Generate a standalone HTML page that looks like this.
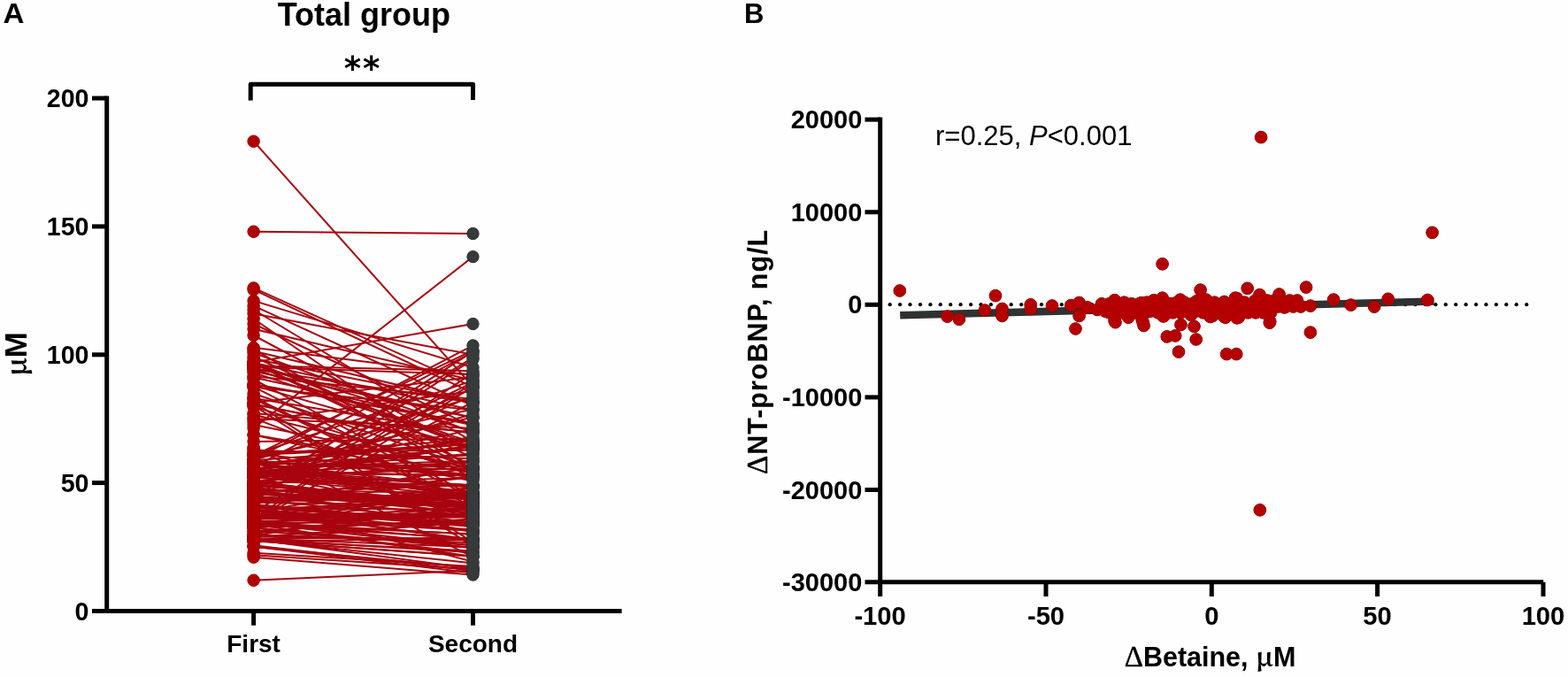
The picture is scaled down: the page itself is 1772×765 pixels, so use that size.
<!DOCTYPE html>
<html><head><meta charset="utf-8"><style>
html,body{margin:0;padding:0;background:#fff;}
svg{display:block}
text{font-family:'Liberation Sans',Arial,sans-serif;fill:#000}
.b{font-weight:bold}
.sym{font-family:'Liberation Serif',serif;font-weight:normal}
.mu{font-family:'Noto Serif CJK SC','Liberation Serif',serif;font-weight:bold}
</style></head><body>
<svg width="1772" height="765" viewBox="0 0 1772 765">
<rect width="1772" height="765" fill="#fefefe"/>
<!-- Panel A -->
<text class="b" transform="translate(3.6 26.3) scale(1.07 1)" font-size="31">A</text>
<text class="b" x="411.35" y="29" font-size="36" text-anchor="middle">Total group</text>
<text class="b" x="410" y="89.5" font-size="37" text-anchor="middle" letter-spacing="2" style="font-family:'DejaVu Sans',sans-serif">**</text>
<path d="M283.2 113.5V95.2H534.5V113" fill="none" stroke="#000" stroke-width="5" stroke-linejoin="round"/>
<g stroke="#000" stroke-width="5" fill="none">
<line x1="120.7" y1="108.6" x2="120.7" y2="693"/>
<line x1="104" y1="690.5" x2="702.6" y2="690.5"/>
<line x1="104" y1="545.6" x2="120.7" y2="545.6"/><line x1="104" y1="400.8" x2="120.7" y2="400.8"/><line x1="104" y1="255.9" x2="120.7" y2="255.9"/><line x1="104" y1="111.0" x2="120.7" y2="111.0"/>
<line x1="286.6" y1="690.5" x2="286.6" y2="706.7"/>
<line x1="534.5" y1="690.5" x2="534.5" y2="706.7"/>
</g>
<text class="b" x="100.5" y="700.5" font-size="28.6" text-anchor="end">0</text><text class="b" x="100.5" y="555.6" font-size="28.6" text-anchor="end">50</text><text class="b" x="100.5" y="410.8" font-size="28.6" text-anchor="end">100</text><text class="b" x="100.5" y="265.9" font-size="28.6" text-anchor="end">150</text><text class="b" x="100.5" y="121.0" font-size="28.6" text-anchor="end">200</text>
<text class="b" x="286.6" y="736.5" font-size="28" text-anchor="middle">First</text>
<text class="b" x="534.5" y="736.5" font-size="28" text-anchor="middle">Second</text>
<text class="b" transform="translate(29.8 400) rotate(-90)" font-size="35" text-anchor="middle"><tspan class="mu" font-size="32">μ</tspan>M</text>
<g stroke="#a8040f" stroke-width="2.0"><line x1="286.6" y1="159.7" x2="534.5" y2="437.0"/><line x1="286.6" y1="261.7" x2="534.5" y2="264.0"/><line x1="286.6" y1="483.9" x2="534.5" y2="290.1"/><line x1="286.6" y1="409.4" x2="534.5" y2="366.0"/><line x1="286.6" y1="325.4" x2="534.5" y2="437.3"/><line x1="286.6" y1="327.4" x2="534.5" y2="444.2"/><line x1="286.6" y1="655.7" x2="534.5" y2="644.7"/><line x1="286.6" y1="629.7" x2="534.5" y2="649.6"/><line x1="286.6" y1="339.9" x2="534.5" y2="415.2"/><line x1="286.6" y1="345.7" x2="534.5" y2="458.7"/><line x1="286.6" y1="350.0" x2="534.5" y2="499.3"/><line x1="286.6" y1="354.4" x2="534.5" y2="400.8"/><line x1="286.6" y1="360.2" x2="534.5" y2="531.1"/><line x1="286.6" y1="366.0" x2="534.5" y2="481.9"/><line x1="286.6" y1="371.8" x2="534.5" y2="429.7"/><line x1="286.6" y1="379.0" x2="534.5" y2="510.9"/><line x1="286.6" y1="617.9" x2="534.5" y2="642.0"/><line x1="286.6" y1="617.5" x2="534.5" y2="647.4"/><line x1="286.6" y1="624.8" x2="534.5" y2="640.1"/><line x1="286.6" y1="616.3" x2="534.5" y2="644.9"/><line x1="286.6" y1="627.2" x2="534.5" y2="643.3"/><line x1="286.6" y1="608.5" x2="534.5" y2="618.3"/><line x1="286.6" y1="548.0" x2="534.5" y2="493.1"/><line x1="286.6" y1="522.8" x2="534.5" y2="514.4"/><line x1="286.6" y1="551.6" x2="534.5" y2="570.5"/><line x1="286.6" y1="610.9" x2="534.5" y2="628.6"/><line x1="286.6" y1="563.3" x2="534.5" y2="558.0"/><line x1="286.6" y1="589.8" x2="534.5" y2="593.0"/><line x1="286.6" y1="609.5" x2="534.5" y2="642.5"/><line x1="286.6" y1="534.2" x2="534.5" y2="537.2"/><line x1="286.6" y1="564.1" x2="534.5" y2="590.2"/><line x1="286.6" y1="550.8" x2="534.5" y2="580.6"/><line x1="286.6" y1="569.9" x2="534.5" y2="592.8"/><line x1="286.6" y1="519.9" x2="534.5" y2="449.2"/><line x1="286.6" y1="534.4" x2="534.5" y2="548.3"/><line x1="286.6" y1="591.0" x2="534.5" y2="619.1"/><line x1="286.6" y1="585.5" x2="534.5" y2="558.4"/><line x1="286.6" y1="575.1" x2="534.5" y2="567.0"/><line x1="286.6" y1="533.8" x2="534.5" y2="586.6"/><line x1="286.6" y1="533.7" x2="534.5" y2="504.2"/><line x1="286.6" y1="612.2" x2="534.5" y2="608.2"/><line x1="286.6" y1="568.7" x2="534.5" y2="528.1"/><line x1="286.6" y1="521.4" x2="534.5" y2="537.3"/><line x1="286.6" y1="553.9" x2="534.5" y2="557.2"/><line x1="286.6" y1="540.1" x2="534.5" y2="550.0"/><line x1="286.6" y1="581.4" x2="534.5" y2="580.3"/><line x1="286.6" y1="522.9" x2="534.5" y2="531.0"/><line x1="286.6" y1="589.4" x2="534.5" y2="609.7"/><line x1="286.6" y1="602.9" x2="534.5" y2="573.1"/><line x1="286.6" y1="595.8" x2="534.5" y2="589.3"/><line x1="286.6" y1="560.4" x2="534.5" y2="583.4"/><line x1="286.6" y1="544.4" x2="534.5" y2="548.2"/><line x1="286.6" y1="600.1" x2="534.5" y2="616.0"/><line x1="286.6" y1="573.3" x2="534.5" y2="591.0"/><line x1="286.6" y1="592.5" x2="534.5" y2="608.9"/><line x1="286.6" y1="537.8" x2="534.5" y2="485.3"/><line x1="286.6" y1="584.1" x2="534.5" y2="580.8"/><line x1="286.6" y1="575.7" x2="534.5" y2="595.0"/><line x1="286.6" y1="533.0" x2="534.5" y2="548.4"/><line x1="286.6" y1="520.5" x2="534.5" y2="537.5"/><line x1="286.6" y1="592.5" x2="534.5" y2="603.3"/><line x1="286.6" y1="581.8" x2="534.5" y2="550.6"/><line x1="286.6" y1="584.8" x2="534.5" y2="584.5"/><line x1="286.6" y1="558.2" x2="534.5" y2="562.4"/><line x1="286.6" y1="589.7" x2="534.5" y2="616.4"/><line x1="286.6" y1="570.2" x2="534.5" y2="592.2"/><line x1="286.6" y1="523.3" x2="534.5" y2="562.2"/><line x1="286.6" y1="531.9" x2="534.5" y2="537.5"/><line x1="286.6" y1="595.3" x2="534.5" y2="575.3"/><line x1="286.6" y1="536.4" x2="534.5" y2="503.4"/><line x1="286.6" y1="589.1" x2="534.5" y2="583.8"/><line x1="286.6" y1="525.1" x2="534.5" y2="498.4"/><line x1="286.6" y1="594.0" x2="534.5" y2="557.1"/><line x1="286.6" y1="556.3" x2="534.5" y2="579.8"/><line x1="286.6" y1="573.2" x2="534.5" y2="576.7"/><line x1="286.6" y1="523.0" x2="534.5" y2="527.7"/><line x1="286.6" y1="590.2" x2="534.5" y2="603.9"/><line x1="286.6" y1="535.9" x2="534.5" y2="561.7"/><line x1="286.6" y1="557.0" x2="534.5" y2="569.5"/><line x1="286.6" y1="545.5" x2="534.5" y2="540.3"/><line x1="286.6" y1="605.9" x2="534.5" y2="610.6"/><line x1="286.6" y1="533.2" x2="534.5" y2="512.5"/><line x1="286.6" y1="555.3" x2="534.5" y2="573.8"/><line x1="286.6" y1="593.4" x2="534.5" y2="551.2"/><line x1="286.6" y1="610.7" x2="534.5" y2="622.5"/><line x1="286.6" y1="606.7" x2="534.5" y2="590.4"/><line x1="286.6" y1="595.9" x2="534.5" y2="625.1"/><line x1="286.6" y1="600.1" x2="534.5" y2="586.6"/><line x1="286.6" y1="578.7" x2="534.5" y2="537.0"/><line x1="286.6" y1="551.4" x2="534.5" y2="601.2"/><line x1="286.6" y1="548.2" x2="534.5" y2="567.9"/><line x1="286.6" y1="609.0" x2="534.5" y2="624.2"/><line x1="286.6" y1="610.6" x2="534.5" y2="588.9"/><line x1="286.6" y1="523.0" x2="534.5" y2="551.0"/><line x1="286.6" y1="610.3" x2="534.5" y2="636.4"/><line x1="286.6" y1="544.5" x2="534.5" y2="573.3"/><line x1="286.6" y1="582.7" x2="534.5" y2="582.2"/><line x1="286.6" y1="561.6" x2="534.5" y2="570.4"/><line x1="286.6" y1="543.9" x2="534.5" y2="521.9"/><line x1="286.6" y1="547.0" x2="534.5" y2="577.9"/><line x1="286.6" y1="538.7" x2="534.5" y2="528.8"/><line x1="286.6" y1="548.7" x2="534.5" y2="568.4"/><line x1="286.6" y1="528.7" x2="534.5" y2="520.8"/><line x1="286.6" y1="539.0" x2="534.5" y2="565.1"/><line x1="286.6" y1="532.2" x2="534.5" y2="570.0"/><line x1="286.6" y1="576.8" x2="534.5" y2="599.8"/><line x1="286.6" y1="558.2" x2="534.5" y2="574.3"/><line x1="286.6" y1="553.0" x2="534.5" y2="567.7"/><line x1="286.6" y1="520.2" x2="534.5" y2="501.6"/><line x1="286.6" y1="576.3" x2="534.5" y2="610.6"/><line x1="286.6" y1="544.1" x2="534.5" y2="574.6"/><line x1="286.6" y1="534.5" x2="534.5" y2="555.4"/><line x1="286.6" y1="604.5" x2="534.5" y2="613.2"/><line x1="286.6" y1="556.5" x2="534.5" y2="570.9"/><line x1="286.6" y1="567.7" x2="534.5" y2="571.9"/><line x1="286.6" y1="566.2" x2="534.5" y2="539.2"/><line x1="286.6" y1="555.3" x2="534.5" y2="548.3"/><line x1="286.6" y1="611.2" x2="534.5" y2="628.5"/><line x1="286.6" y1="584.4" x2="534.5" y2="599.9"/><line x1="286.6" y1="596.5" x2="534.5" y2="619.3"/><line x1="286.6" y1="528.3" x2="534.5" y2="550.4"/><line x1="286.6" y1="529.6" x2="534.5" y2="559.4"/><line x1="286.6" y1="582.0" x2="534.5" y2="598.4"/><line x1="286.6" y1="572.3" x2="534.5" y2="594.3"/><line x1="286.6" y1="537.5" x2="534.5" y2="505.2"/><line x1="286.6" y1="576.6" x2="534.5" y2="609.8"/><line x1="286.6" y1="558.2" x2="534.5" y2="572.0"/><line x1="286.6" y1="566.2" x2="534.5" y2="563.5"/><line x1="286.6" y1="534.7" x2="534.5" y2="522.1"/><line x1="286.6" y1="524.2" x2="534.5" y2="562.6"/><line x1="286.6" y1="586.6" x2="534.5" y2="583.0"/><line x1="286.6" y1="586.8" x2="534.5" y2="573.3"/><line x1="286.6" y1="592.4" x2="534.5" y2="629.0"/><line x1="286.6" y1="566.5" x2="534.5" y2="558.4"/><line x1="286.6" y1="583.0" x2="534.5" y2="556.8"/><line x1="286.6" y1="570.3" x2="534.5" y2="634.7"/><line x1="286.6" y1="605.3" x2="534.5" y2="567.9"/><line x1="286.6" y1="608.4" x2="534.5" y2="607.9"/><line x1="286.6" y1="546.6" x2="534.5" y2="573.3"/><line x1="286.6" y1="538.9" x2="534.5" y2="556.1"/><line x1="286.6" y1="514.2" x2="534.5" y2="502.3"/><line x1="286.6" y1="513.5" x2="534.5" y2="497.0"/><line x1="286.6" y1="411.8" x2="534.5" y2="487.7"/><line x1="286.6" y1="510.7" x2="534.5" y2="508.8"/><line x1="286.6" y1="437.2" x2="534.5" y2="562.9"/><line x1="286.6" y1="433.9" x2="534.5" y2="478.1"/><line x1="286.6" y1="414.7" x2="534.5" y2="423.0"/><line x1="286.6" y1="491.5" x2="534.5" y2="543.8"/><line x1="286.6" y1="456.6" x2="534.5" y2="507.0"/><line x1="286.6" y1="457.0" x2="534.5" y2="503.9"/><line x1="286.6" y1="426.4" x2="534.5" y2="480.4"/><line x1="286.6" y1="473.0" x2="534.5" y2="483.9"/><line x1="286.6" y1="428.6" x2="534.5" y2="560.8"/><line x1="286.6" y1="421.1" x2="534.5" y2="502.1"/><line x1="286.6" y1="466.9" x2="534.5" y2="488.3"/><line x1="286.6" y1="505.6" x2="534.5" y2="629.4"/><line x1="286.6" y1="398.8" x2="534.5" y2="488.1"/><line x1="286.6" y1="459.4" x2="534.5" y2="535.2"/><line x1="286.6" y1="437.6" x2="534.5" y2="463.3"/><line x1="286.6" y1="444.8" x2="534.5" y2="528.8"/><line x1="286.6" y1="405.6" x2="534.5" y2="454.7"/><line x1="286.6" y1="458.1" x2="534.5" y2="617.2"/><line x1="286.6" y1="434.4" x2="534.5" y2="479.2"/><line x1="286.6" y1="413.3" x2="534.5" y2="419.2"/><line x1="286.6" y1="435.6" x2="534.5" y2="506.9"/><line x1="286.6" y1="403.0" x2="534.5" y2="517.2"/><line x1="286.6" y1="392.8" x2="534.5" y2="424.2"/><line x1="286.6" y1="416.7" x2="534.5" y2="500.1"/><line x1="286.6" y1="476.2" x2="534.5" y2="441.7"/><line x1="286.6" y1="472.6" x2="534.5" y2="566.0"/><line x1="286.6" y1="506.2" x2="534.5" y2="586.8"/><line x1="286.6" y1="419.6" x2="534.5" y2="472.0"/><line x1="286.6" y1="455.1" x2="534.5" y2="426.2"/><line x1="286.6" y1="508.6" x2="534.5" y2="518.3"/><line x1="286.6" y1="415.6" x2="534.5" y2="472.0"/><line x1="286.6" y1="417.1" x2="534.5" y2="455.1"/><line x1="286.6" y1="498.9" x2="534.5" y2="495.7"/><line x1="286.6" y1="425.2" x2="534.5" y2="450.9"/><line x1="286.6" y1="410.5" x2="534.5" y2="530.8"/><line x1="286.6" y1="454.4" x2="534.5" y2="612.8"/><line x1="286.6" y1="396.7" x2="534.5" y2="454.9"/><line x1="286.6" y1="450.1" x2="534.5" y2="490.1"/><line x1="286.6" y1="480.0" x2="534.5" y2="529.2"/><line x1="286.6" y1="450.6" x2="534.5" y2="572.8"/><line x1="286.6" y1="410.1" x2="534.5" y2="526.2"/><line x1="286.6" y1="468.5" x2="534.5" y2="530.0"/><line x1="286.6" y1="409.9" x2="534.5" y2="463.2"/><line x1="286.6" y1="409.2" x2="534.5" y2="507.1"/><line x1="286.6" y1="394.3" x2="534.5" y2="541.7"/><line x1="286.6" y1="491.3" x2="534.5" y2="534.7"/><line x1="286.6" y1="448.9" x2="534.5" y2="569.7"/><line x1="286.6" y1="513.1" x2="534.5" y2="536.6"/><line x1="286.6" y1="513.7" x2="534.5" y2="430.0"/><line x1="286.6" y1="566.4" x2="534.5" y2="406.1"/><line x1="286.6" y1="551.4" x2="534.5" y2="432.1"/><line x1="286.6" y1="539.5" x2="534.5" y2="467.7"/><line x1="286.6" y1="553.6" x2="534.5" y2="438.5"/><line x1="286.6" y1="514.9" x2="534.5" y2="395.9"/><line x1="286.6" y1="578.6" x2="534.5" y2="433.6"/><line x1="286.6" y1="591.8" x2="534.5" y2="436.9"/><line x1="286.6" y1="527.9" x2="534.5" y2="397.8"/><line x1="286.6" y1="559.4" x2="534.5" y2="446.6"/><line x1="286.6" y1="585.8" x2="534.5" y2="421.4"/><line x1="286.6" y1="517.8" x2="534.5" y2="462.3"/><line x1="286.6" y1="531.3" x2="534.5" y2="471.3"/><line x1="286.6" y1="585.6" x2="534.5" y2="454.2"/><line x1="286.6" y1="519.4" x2="534.5" y2="390.3"/><line x1="286.6" y1="556.4" x2="534.5" y2="397.3"/><line x1="286.6" y1="553.1" x2="534.5" y2="404.2"/></g>
<g fill="#8a0000" stroke="#8a0000" stroke-width="0.9"><circle cx="286.6" cy="159.7" r="6.75"/><circle cx="286.6" cy="261.7" r="6.75"/><circle cx="286.6" cy="483.9" r="6.75"/><circle cx="286.6" cy="409.4" r="6.75"/><circle cx="286.6" cy="325.4" r="6.75"/><circle cx="286.6" cy="327.4" r="6.75"/><circle cx="286.6" cy="655.7" r="6.75"/><circle cx="286.6" cy="629.7" r="6.75"/><circle cx="286.6" cy="339.9" r="6.75"/><circle cx="286.6" cy="345.7" r="6.75"/><circle cx="286.6" cy="350.0" r="6.75"/><circle cx="286.6" cy="354.4" r="6.75"/><circle cx="286.6" cy="360.2" r="6.75"/><circle cx="286.6" cy="366.0" r="6.75"/><circle cx="286.6" cy="371.8" r="6.75"/><circle cx="286.6" cy="379.0" r="6.75"/><circle cx="286.6" cy="617.9" r="6.75"/><circle cx="286.6" cy="617.5" r="6.75"/><circle cx="286.6" cy="624.8" r="6.75"/><circle cx="286.6" cy="616.3" r="6.75"/><circle cx="286.6" cy="627.2" r="6.75"/><circle cx="286.6" cy="608.5" r="6.75"/><circle cx="286.6" cy="548.0" r="6.75"/><circle cx="286.6" cy="522.8" r="6.75"/><circle cx="286.6" cy="551.6" r="6.75"/><circle cx="286.6" cy="610.9" r="6.75"/><circle cx="286.6" cy="563.3" r="6.75"/><circle cx="286.6" cy="589.8" r="6.75"/><circle cx="286.6" cy="609.5" r="6.75"/><circle cx="286.6" cy="534.2" r="6.75"/><circle cx="286.6" cy="564.1" r="6.75"/><circle cx="286.6" cy="550.8" r="6.75"/><circle cx="286.6" cy="569.9" r="6.75"/><circle cx="286.6" cy="519.9" r="6.75"/><circle cx="286.6" cy="534.4" r="6.75"/><circle cx="286.6" cy="591.0" r="6.75"/><circle cx="286.6" cy="585.5" r="6.75"/><circle cx="286.6" cy="575.1" r="6.75"/><circle cx="286.6" cy="533.8" r="6.75"/><circle cx="286.6" cy="533.7" r="6.75"/><circle cx="286.6" cy="612.2" r="6.75"/><circle cx="286.6" cy="568.7" r="6.75"/><circle cx="286.6" cy="521.4" r="6.75"/><circle cx="286.6" cy="553.9" r="6.75"/><circle cx="286.6" cy="540.1" r="6.75"/><circle cx="286.6" cy="581.4" r="6.75"/><circle cx="286.6" cy="522.9" r="6.75"/><circle cx="286.6" cy="589.4" r="6.75"/><circle cx="286.6" cy="602.9" r="6.75"/><circle cx="286.6" cy="595.8" r="6.75"/><circle cx="286.6" cy="560.4" r="6.75"/><circle cx="286.6" cy="544.4" r="6.75"/><circle cx="286.6" cy="600.1" r="6.75"/><circle cx="286.6" cy="573.3" r="6.75"/><circle cx="286.6" cy="592.5" r="6.75"/><circle cx="286.6" cy="537.8" r="6.75"/><circle cx="286.6" cy="584.1" r="6.75"/><circle cx="286.6" cy="575.7" r="6.75"/><circle cx="286.6" cy="533.0" r="6.75"/><circle cx="286.6" cy="520.5" r="6.75"/><circle cx="286.6" cy="592.5" r="6.75"/><circle cx="286.6" cy="581.8" r="6.75"/><circle cx="286.6" cy="584.8" r="6.75"/><circle cx="286.6" cy="558.2" r="6.75"/><circle cx="286.6" cy="589.7" r="6.75"/><circle cx="286.6" cy="570.2" r="6.75"/><circle cx="286.6" cy="523.3" r="6.75"/><circle cx="286.6" cy="531.9" r="6.75"/><circle cx="286.6" cy="595.3" r="6.75"/><circle cx="286.6" cy="536.4" r="6.75"/><circle cx="286.6" cy="589.1" r="6.75"/><circle cx="286.6" cy="525.1" r="6.75"/><circle cx="286.6" cy="594.0" r="6.75"/><circle cx="286.6" cy="556.3" r="6.75"/><circle cx="286.6" cy="573.2" r="6.75"/><circle cx="286.6" cy="523.0" r="6.75"/><circle cx="286.6" cy="590.2" r="6.75"/><circle cx="286.6" cy="535.9" r="6.75"/><circle cx="286.6" cy="557.0" r="6.75"/><circle cx="286.6" cy="545.5" r="6.75"/><circle cx="286.6" cy="605.9" r="6.75"/><circle cx="286.6" cy="533.2" r="6.75"/><circle cx="286.6" cy="555.3" r="6.75"/><circle cx="286.6" cy="593.4" r="6.75"/><circle cx="286.6" cy="610.7" r="6.75"/><circle cx="286.6" cy="606.7" r="6.75"/><circle cx="286.6" cy="595.9" r="6.75"/><circle cx="286.6" cy="600.1" r="6.75"/><circle cx="286.6" cy="578.7" r="6.75"/><circle cx="286.6" cy="551.4" r="6.75"/><circle cx="286.6" cy="548.2" r="6.75"/><circle cx="286.6" cy="609.0" r="6.75"/><circle cx="286.6" cy="610.6" r="6.75"/><circle cx="286.6" cy="523.0" r="6.75"/><circle cx="286.6" cy="610.3" r="6.75"/><circle cx="286.6" cy="544.5" r="6.75"/><circle cx="286.6" cy="582.7" r="6.75"/><circle cx="286.6" cy="561.6" r="6.75"/><circle cx="286.6" cy="543.9" r="6.75"/><circle cx="286.6" cy="547.0" r="6.75"/><circle cx="286.6" cy="538.7" r="6.75"/><circle cx="286.6" cy="548.7" r="6.75"/><circle cx="286.6" cy="528.7" r="6.75"/><circle cx="286.6" cy="539.0" r="6.75"/><circle cx="286.6" cy="532.2" r="6.75"/><circle cx="286.6" cy="576.8" r="6.75"/><circle cx="286.6" cy="558.2" r="6.75"/><circle cx="286.6" cy="553.0" r="6.75"/><circle cx="286.6" cy="520.2" r="6.75"/><circle cx="286.6" cy="576.3" r="6.75"/><circle cx="286.6" cy="544.1" r="6.75"/><circle cx="286.6" cy="534.5" r="6.75"/><circle cx="286.6" cy="604.5" r="6.75"/><circle cx="286.6" cy="556.5" r="6.75"/><circle cx="286.6" cy="567.7" r="6.75"/><circle cx="286.6" cy="566.2" r="6.75"/><circle cx="286.6" cy="555.3" r="6.75"/><circle cx="286.6" cy="611.2" r="6.75"/><circle cx="286.6" cy="584.4" r="6.75"/><circle cx="286.6" cy="596.5" r="6.75"/><circle cx="286.6" cy="528.3" r="6.75"/><circle cx="286.6" cy="529.6" r="6.75"/><circle cx="286.6" cy="582.0" r="6.75"/><circle cx="286.6" cy="572.3" r="6.75"/><circle cx="286.6" cy="537.5" r="6.75"/><circle cx="286.6" cy="576.6" r="6.75"/><circle cx="286.6" cy="558.2" r="6.75"/><circle cx="286.6" cy="566.2" r="6.75"/><circle cx="286.6" cy="534.7" r="6.75"/><circle cx="286.6" cy="524.2" r="6.75"/><circle cx="286.6" cy="586.6" r="6.75"/><circle cx="286.6" cy="586.8" r="6.75"/><circle cx="286.6" cy="592.4" r="6.75"/><circle cx="286.6" cy="566.5" r="6.75"/><circle cx="286.6" cy="583.0" r="6.75"/><circle cx="286.6" cy="570.3" r="6.75"/><circle cx="286.6" cy="605.3" r="6.75"/><circle cx="286.6" cy="608.4" r="6.75"/><circle cx="286.6" cy="546.6" r="6.75"/><circle cx="286.6" cy="538.9" r="6.75"/><circle cx="286.6" cy="514.2" r="6.75"/><circle cx="286.6" cy="513.5" r="6.75"/><circle cx="286.6" cy="411.8" r="6.75"/><circle cx="286.6" cy="510.7" r="6.75"/><circle cx="286.6" cy="437.2" r="6.75"/><circle cx="286.6" cy="433.9" r="6.75"/><circle cx="286.6" cy="414.7" r="6.75"/><circle cx="286.6" cy="491.5" r="6.75"/><circle cx="286.6" cy="456.6" r="6.75"/><circle cx="286.6" cy="457.0" r="6.75"/><circle cx="286.6" cy="426.4" r="6.75"/><circle cx="286.6" cy="473.0" r="6.75"/><circle cx="286.6" cy="428.6" r="6.75"/><circle cx="286.6" cy="421.1" r="6.75"/><circle cx="286.6" cy="466.9" r="6.75"/><circle cx="286.6" cy="505.6" r="6.75"/><circle cx="286.6" cy="398.8" r="6.75"/><circle cx="286.6" cy="459.4" r="6.75"/><circle cx="286.6" cy="437.6" r="6.75"/><circle cx="286.6" cy="444.8" r="6.75"/><circle cx="286.6" cy="405.6" r="6.75"/><circle cx="286.6" cy="458.1" r="6.75"/><circle cx="286.6" cy="434.4" r="6.75"/><circle cx="286.6" cy="413.3" r="6.75"/><circle cx="286.6" cy="435.6" r="6.75"/><circle cx="286.6" cy="403.0" r="6.75"/><circle cx="286.6" cy="392.8" r="6.75"/><circle cx="286.6" cy="416.7" r="6.75"/><circle cx="286.6" cy="476.2" r="6.75"/><circle cx="286.6" cy="472.6" r="6.75"/><circle cx="286.6" cy="506.2" r="6.75"/><circle cx="286.6" cy="419.6" r="6.75"/><circle cx="286.6" cy="455.1" r="6.75"/><circle cx="286.6" cy="508.6" r="6.75"/><circle cx="286.6" cy="415.6" r="6.75"/><circle cx="286.6" cy="417.1" r="6.75"/><circle cx="286.6" cy="498.9" r="6.75"/><circle cx="286.6" cy="425.2" r="6.75"/><circle cx="286.6" cy="410.5" r="6.75"/><circle cx="286.6" cy="454.4" r="6.75"/><circle cx="286.6" cy="396.7" r="6.75"/><circle cx="286.6" cy="450.1" r="6.75"/><circle cx="286.6" cy="480.0" r="6.75"/><circle cx="286.6" cy="450.6" r="6.75"/><circle cx="286.6" cy="410.1" r="6.75"/><circle cx="286.6" cy="468.5" r="6.75"/><circle cx="286.6" cy="409.9" r="6.75"/><circle cx="286.6" cy="409.2" r="6.75"/><circle cx="286.6" cy="394.3" r="6.75"/><circle cx="286.6" cy="491.3" r="6.75"/><circle cx="286.6" cy="448.9" r="6.75"/><circle cx="286.6" cy="513.1" r="6.75"/><circle cx="286.6" cy="513.7" r="6.75"/><circle cx="286.6" cy="566.4" r="6.75"/><circle cx="286.6" cy="551.4" r="6.75"/><circle cx="286.6" cy="539.5" r="6.75"/><circle cx="286.6" cy="553.6" r="6.75"/><circle cx="286.6" cy="514.9" r="6.75"/><circle cx="286.6" cy="578.6" r="6.75"/><circle cx="286.6" cy="591.8" r="6.75"/><circle cx="286.6" cy="527.9" r="6.75"/><circle cx="286.6" cy="559.4" r="6.75"/><circle cx="286.6" cy="585.8" r="6.75"/><circle cx="286.6" cy="517.8" r="6.75"/><circle cx="286.6" cy="531.3" r="6.75"/><circle cx="286.6" cy="585.6" r="6.75"/><circle cx="286.6" cy="519.4" r="6.75"/><circle cx="286.6" cy="556.4" r="6.75"/><circle cx="286.6" cy="553.1" r="6.75"/></g>
<g fill="#b00000"><circle cx="286.6" cy="159.7" r="6.75"/><circle cx="286.6" cy="261.7" r="6.75"/><circle cx="286.6" cy="483.9" r="6.75"/><circle cx="286.6" cy="409.4" r="6.75"/><circle cx="286.6" cy="325.4" r="6.75"/><circle cx="286.6" cy="327.4" r="6.75"/><circle cx="286.6" cy="655.7" r="6.75"/><circle cx="286.6" cy="629.7" r="6.75"/><circle cx="286.6" cy="339.9" r="6.75"/><circle cx="286.6" cy="345.7" r="6.75"/><circle cx="286.6" cy="350.0" r="6.75"/><circle cx="286.6" cy="354.4" r="6.75"/><circle cx="286.6" cy="360.2" r="6.75"/><circle cx="286.6" cy="366.0" r="6.75"/><circle cx="286.6" cy="371.8" r="6.75"/><circle cx="286.6" cy="379.0" r="6.75"/><circle cx="286.6" cy="617.9" r="6.75"/><circle cx="286.6" cy="617.5" r="6.75"/><circle cx="286.6" cy="624.8" r="6.75"/><circle cx="286.6" cy="616.3" r="6.75"/><circle cx="286.6" cy="627.2" r="6.75"/><circle cx="286.6" cy="608.5" r="6.75"/><circle cx="286.6" cy="548.0" r="6.75"/><circle cx="286.6" cy="522.8" r="6.75"/><circle cx="286.6" cy="551.6" r="6.75"/><circle cx="286.6" cy="610.9" r="6.75"/><circle cx="286.6" cy="563.3" r="6.75"/><circle cx="286.6" cy="589.8" r="6.75"/><circle cx="286.6" cy="609.5" r="6.75"/><circle cx="286.6" cy="534.2" r="6.75"/><circle cx="286.6" cy="564.1" r="6.75"/><circle cx="286.6" cy="550.8" r="6.75"/><circle cx="286.6" cy="569.9" r="6.75"/><circle cx="286.6" cy="519.9" r="6.75"/><circle cx="286.6" cy="534.4" r="6.75"/><circle cx="286.6" cy="591.0" r="6.75"/><circle cx="286.6" cy="585.5" r="6.75"/><circle cx="286.6" cy="575.1" r="6.75"/><circle cx="286.6" cy="533.8" r="6.75"/><circle cx="286.6" cy="533.7" r="6.75"/><circle cx="286.6" cy="612.2" r="6.75"/><circle cx="286.6" cy="568.7" r="6.75"/><circle cx="286.6" cy="521.4" r="6.75"/><circle cx="286.6" cy="553.9" r="6.75"/><circle cx="286.6" cy="540.1" r="6.75"/><circle cx="286.6" cy="581.4" r="6.75"/><circle cx="286.6" cy="522.9" r="6.75"/><circle cx="286.6" cy="589.4" r="6.75"/><circle cx="286.6" cy="602.9" r="6.75"/><circle cx="286.6" cy="595.8" r="6.75"/><circle cx="286.6" cy="560.4" r="6.75"/><circle cx="286.6" cy="544.4" r="6.75"/><circle cx="286.6" cy="600.1" r="6.75"/><circle cx="286.6" cy="573.3" r="6.75"/><circle cx="286.6" cy="592.5" r="6.75"/><circle cx="286.6" cy="537.8" r="6.75"/><circle cx="286.6" cy="584.1" r="6.75"/><circle cx="286.6" cy="575.7" r="6.75"/><circle cx="286.6" cy="533.0" r="6.75"/><circle cx="286.6" cy="520.5" r="6.75"/><circle cx="286.6" cy="592.5" r="6.75"/><circle cx="286.6" cy="581.8" r="6.75"/><circle cx="286.6" cy="584.8" r="6.75"/><circle cx="286.6" cy="558.2" r="6.75"/><circle cx="286.6" cy="589.7" r="6.75"/><circle cx="286.6" cy="570.2" r="6.75"/><circle cx="286.6" cy="523.3" r="6.75"/><circle cx="286.6" cy="531.9" r="6.75"/><circle cx="286.6" cy="595.3" r="6.75"/><circle cx="286.6" cy="536.4" r="6.75"/><circle cx="286.6" cy="589.1" r="6.75"/><circle cx="286.6" cy="525.1" r="6.75"/><circle cx="286.6" cy="594.0" r="6.75"/><circle cx="286.6" cy="556.3" r="6.75"/><circle cx="286.6" cy="573.2" r="6.75"/><circle cx="286.6" cy="523.0" r="6.75"/><circle cx="286.6" cy="590.2" r="6.75"/><circle cx="286.6" cy="535.9" r="6.75"/><circle cx="286.6" cy="557.0" r="6.75"/><circle cx="286.6" cy="545.5" r="6.75"/><circle cx="286.6" cy="605.9" r="6.75"/><circle cx="286.6" cy="533.2" r="6.75"/><circle cx="286.6" cy="555.3" r="6.75"/><circle cx="286.6" cy="593.4" r="6.75"/><circle cx="286.6" cy="610.7" r="6.75"/><circle cx="286.6" cy="606.7" r="6.75"/><circle cx="286.6" cy="595.9" r="6.75"/><circle cx="286.6" cy="600.1" r="6.75"/><circle cx="286.6" cy="578.7" r="6.75"/><circle cx="286.6" cy="551.4" r="6.75"/><circle cx="286.6" cy="548.2" r="6.75"/><circle cx="286.6" cy="609.0" r="6.75"/><circle cx="286.6" cy="610.6" r="6.75"/><circle cx="286.6" cy="523.0" r="6.75"/><circle cx="286.6" cy="610.3" r="6.75"/><circle cx="286.6" cy="544.5" r="6.75"/><circle cx="286.6" cy="582.7" r="6.75"/><circle cx="286.6" cy="561.6" r="6.75"/><circle cx="286.6" cy="543.9" r="6.75"/><circle cx="286.6" cy="547.0" r="6.75"/><circle cx="286.6" cy="538.7" r="6.75"/><circle cx="286.6" cy="548.7" r="6.75"/><circle cx="286.6" cy="528.7" r="6.75"/><circle cx="286.6" cy="539.0" r="6.75"/><circle cx="286.6" cy="532.2" r="6.75"/><circle cx="286.6" cy="576.8" r="6.75"/><circle cx="286.6" cy="558.2" r="6.75"/><circle cx="286.6" cy="553.0" r="6.75"/><circle cx="286.6" cy="520.2" r="6.75"/><circle cx="286.6" cy="576.3" r="6.75"/><circle cx="286.6" cy="544.1" r="6.75"/><circle cx="286.6" cy="534.5" r="6.75"/><circle cx="286.6" cy="604.5" r="6.75"/><circle cx="286.6" cy="556.5" r="6.75"/><circle cx="286.6" cy="567.7" r="6.75"/><circle cx="286.6" cy="566.2" r="6.75"/><circle cx="286.6" cy="555.3" r="6.75"/><circle cx="286.6" cy="611.2" r="6.75"/><circle cx="286.6" cy="584.4" r="6.75"/><circle cx="286.6" cy="596.5" r="6.75"/><circle cx="286.6" cy="528.3" r="6.75"/><circle cx="286.6" cy="529.6" r="6.75"/><circle cx="286.6" cy="582.0" r="6.75"/><circle cx="286.6" cy="572.3" r="6.75"/><circle cx="286.6" cy="537.5" r="6.75"/><circle cx="286.6" cy="576.6" r="6.75"/><circle cx="286.6" cy="558.2" r="6.75"/><circle cx="286.6" cy="566.2" r="6.75"/><circle cx="286.6" cy="534.7" r="6.75"/><circle cx="286.6" cy="524.2" r="6.75"/><circle cx="286.6" cy="586.6" r="6.75"/><circle cx="286.6" cy="586.8" r="6.75"/><circle cx="286.6" cy="592.4" r="6.75"/><circle cx="286.6" cy="566.5" r="6.75"/><circle cx="286.6" cy="583.0" r="6.75"/><circle cx="286.6" cy="570.3" r="6.75"/><circle cx="286.6" cy="605.3" r="6.75"/><circle cx="286.6" cy="608.4" r="6.75"/><circle cx="286.6" cy="546.6" r="6.75"/><circle cx="286.6" cy="538.9" r="6.75"/><circle cx="286.6" cy="514.2" r="6.75"/><circle cx="286.6" cy="513.5" r="6.75"/><circle cx="286.6" cy="411.8" r="6.75"/><circle cx="286.6" cy="510.7" r="6.75"/><circle cx="286.6" cy="437.2" r="6.75"/><circle cx="286.6" cy="433.9" r="6.75"/><circle cx="286.6" cy="414.7" r="6.75"/><circle cx="286.6" cy="491.5" r="6.75"/><circle cx="286.6" cy="456.6" r="6.75"/><circle cx="286.6" cy="457.0" r="6.75"/><circle cx="286.6" cy="426.4" r="6.75"/><circle cx="286.6" cy="473.0" r="6.75"/><circle cx="286.6" cy="428.6" r="6.75"/><circle cx="286.6" cy="421.1" r="6.75"/><circle cx="286.6" cy="466.9" r="6.75"/><circle cx="286.6" cy="505.6" r="6.75"/><circle cx="286.6" cy="398.8" r="6.75"/><circle cx="286.6" cy="459.4" r="6.75"/><circle cx="286.6" cy="437.6" r="6.75"/><circle cx="286.6" cy="444.8" r="6.75"/><circle cx="286.6" cy="405.6" r="6.75"/><circle cx="286.6" cy="458.1" r="6.75"/><circle cx="286.6" cy="434.4" r="6.75"/><circle cx="286.6" cy="413.3" r="6.75"/><circle cx="286.6" cy="435.6" r="6.75"/><circle cx="286.6" cy="403.0" r="6.75"/><circle cx="286.6" cy="392.8" r="6.75"/><circle cx="286.6" cy="416.7" r="6.75"/><circle cx="286.6" cy="476.2" r="6.75"/><circle cx="286.6" cy="472.6" r="6.75"/><circle cx="286.6" cy="506.2" r="6.75"/><circle cx="286.6" cy="419.6" r="6.75"/><circle cx="286.6" cy="455.1" r="6.75"/><circle cx="286.6" cy="508.6" r="6.75"/><circle cx="286.6" cy="415.6" r="6.75"/><circle cx="286.6" cy="417.1" r="6.75"/><circle cx="286.6" cy="498.9" r="6.75"/><circle cx="286.6" cy="425.2" r="6.75"/><circle cx="286.6" cy="410.5" r="6.75"/><circle cx="286.6" cy="454.4" r="6.75"/><circle cx="286.6" cy="396.7" r="6.75"/><circle cx="286.6" cy="450.1" r="6.75"/><circle cx="286.6" cy="480.0" r="6.75"/><circle cx="286.6" cy="450.6" r="6.75"/><circle cx="286.6" cy="410.1" r="6.75"/><circle cx="286.6" cy="468.5" r="6.75"/><circle cx="286.6" cy="409.9" r="6.75"/><circle cx="286.6" cy="409.2" r="6.75"/><circle cx="286.6" cy="394.3" r="6.75"/><circle cx="286.6" cy="491.3" r="6.75"/><circle cx="286.6" cy="448.9" r="6.75"/><circle cx="286.6" cy="513.1" r="6.75"/><circle cx="286.6" cy="513.7" r="6.75"/><circle cx="286.6" cy="566.4" r="6.75"/><circle cx="286.6" cy="551.4" r="6.75"/><circle cx="286.6" cy="539.5" r="6.75"/><circle cx="286.6" cy="553.6" r="6.75"/><circle cx="286.6" cy="514.9" r="6.75"/><circle cx="286.6" cy="578.6" r="6.75"/><circle cx="286.6" cy="591.8" r="6.75"/><circle cx="286.6" cy="527.9" r="6.75"/><circle cx="286.6" cy="559.4" r="6.75"/><circle cx="286.6" cy="585.8" r="6.75"/><circle cx="286.6" cy="517.8" r="6.75"/><circle cx="286.6" cy="531.3" r="6.75"/><circle cx="286.6" cy="585.6" r="6.75"/><circle cx="286.6" cy="519.4" r="6.75"/><circle cx="286.6" cy="556.4" r="6.75"/><circle cx="286.6" cy="553.1" r="6.75"/></g>
<g fill="#262a2a" stroke="#262a2a" stroke-width="0.9"><circle cx="534.5" cy="437.0" r="6.65"/><circle cx="534.5" cy="264.0" r="6.65"/><circle cx="534.5" cy="290.1" r="6.65"/><circle cx="534.5" cy="366.0" r="6.65"/><circle cx="534.5" cy="437.3" r="6.65"/><circle cx="534.5" cy="444.2" r="6.65"/><circle cx="534.5" cy="644.7" r="6.65"/><circle cx="534.5" cy="649.6" r="6.65"/><circle cx="534.5" cy="415.2" r="6.65"/><circle cx="534.5" cy="458.7" r="6.65"/><circle cx="534.5" cy="499.3" r="6.65"/><circle cx="534.5" cy="400.8" r="6.65"/><circle cx="534.5" cy="531.1" r="6.65"/><circle cx="534.5" cy="481.9" r="6.65"/><circle cx="534.5" cy="429.7" r="6.65"/><circle cx="534.5" cy="510.9" r="6.65"/><circle cx="534.5" cy="642.0" r="6.65"/><circle cx="534.5" cy="647.4" r="6.65"/><circle cx="534.5" cy="640.1" r="6.65"/><circle cx="534.5" cy="644.9" r="6.65"/><circle cx="534.5" cy="643.3" r="6.65"/><circle cx="534.5" cy="618.3" r="6.65"/><circle cx="534.5" cy="493.1" r="6.65"/><circle cx="534.5" cy="514.4" r="6.65"/><circle cx="534.5" cy="570.5" r="6.65"/><circle cx="534.5" cy="628.6" r="6.65"/><circle cx="534.5" cy="558.0" r="6.65"/><circle cx="534.5" cy="593.0" r="6.65"/><circle cx="534.5" cy="642.5" r="6.65"/><circle cx="534.5" cy="537.2" r="6.65"/><circle cx="534.5" cy="590.2" r="6.65"/><circle cx="534.5" cy="580.6" r="6.65"/><circle cx="534.5" cy="592.8" r="6.65"/><circle cx="534.5" cy="449.2" r="6.65"/><circle cx="534.5" cy="548.3" r="6.65"/><circle cx="534.5" cy="619.1" r="6.65"/><circle cx="534.5" cy="558.4" r="6.65"/><circle cx="534.5" cy="567.0" r="6.65"/><circle cx="534.5" cy="586.6" r="6.65"/><circle cx="534.5" cy="504.2" r="6.65"/><circle cx="534.5" cy="608.2" r="6.65"/><circle cx="534.5" cy="528.1" r="6.65"/><circle cx="534.5" cy="537.3" r="6.65"/><circle cx="534.5" cy="557.2" r="6.65"/><circle cx="534.5" cy="550.0" r="6.65"/><circle cx="534.5" cy="580.3" r="6.65"/><circle cx="534.5" cy="531.0" r="6.65"/><circle cx="534.5" cy="609.7" r="6.65"/><circle cx="534.5" cy="573.1" r="6.65"/><circle cx="534.5" cy="589.3" r="6.65"/><circle cx="534.5" cy="583.4" r="6.65"/><circle cx="534.5" cy="548.2" r="6.65"/><circle cx="534.5" cy="616.0" r="6.65"/><circle cx="534.5" cy="591.0" r="6.65"/><circle cx="534.5" cy="608.9" r="6.65"/><circle cx="534.5" cy="485.3" r="6.65"/><circle cx="534.5" cy="580.8" r="6.65"/><circle cx="534.5" cy="595.0" r="6.65"/><circle cx="534.5" cy="548.4" r="6.65"/><circle cx="534.5" cy="537.5" r="6.65"/><circle cx="534.5" cy="603.3" r="6.65"/><circle cx="534.5" cy="550.6" r="6.65"/><circle cx="534.5" cy="584.5" r="6.65"/><circle cx="534.5" cy="562.4" r="6.65"/><circle cx="534.5" cy="616.4" r="6.65"/><circle cx="534.5" cy="592.2" r="6.65"/><circle cx="534.5" cy="562.2" r="6.65"/><circle cx="534.5" cy="537.5" r="6.65"/><circle cx="534.5" cy="575.3" r="6.65"/><circle cx="534.5" cy="503.4" r="6.65"/><circle cx="534.5" cy="583.8" r="6.65"/><circle cx="534.5" cy="498.4" r="6.65"/><circle cx="534.5" cy="557.1" r="6.65"/><circle cx="534.5" cy="579.8" r="6.65"/><circle cx="534.5" cy="576.7" r="6.65"/><circle cx="534.5" cy="527.7" r="6.65"/><circle cx="534.5" cy="603.9" r="6.65"/><circle cx="534.5" cy="561.7" r="6.65"/><circle cx="534.5" cy="569.5" r="6.65"/><circle cx="534.5" cy="540.3" r="6.65"/><circle cx="534.5" cy="610.6" r="6.65"/><circle cx="534.5" cy="512.5" r="6.65"/><circle cx="534.5" cy="573.8" r="6.65"/><circle cx="534.5" cy="551.2" r="6.65"/><circle cx="534.5" cy="622.5" r="6.65"/><circle cx="534.5" cy="590.4" r="6.65"/><circle cx="534.5" cy="625.1" r="6.65"/><circle cx="534.5" cy="586.6" r="6.65"/><circle cx="534.5" cy="537.0" r="6.65"/><circle cx="534.5" cy="601.2" r="6.65"/><circle cx="534.5" cy="567.9" r="6.65"/><circle cx="534.5" cy="624.2" r="6.65"/><circle cx="534.5" cy="588.9" r="6.65"/><circle cx="534.5" cy="551.0" r="6.65"/><circle cx="534.5" cy="636.4" r="6.65"/><circle cx="534.5" cy="573.3" r="6.65"/><circle cx="534.5" cy="582.2" r="6.65"/><circle cx="534.5" cy="570.4" r="6.65"/><circle cx="534.5" cy="521.9" r="6.65"/><circle cx="534.5" cy="577.9" r="6.65"/><circle cx="534.5" cy="528.8" r="6.65"/><circle cx="534.5" cy="568.4" r="6.65"/><circle cx="534.5" cy="520.8" r="6.65"/><circle cx="534.5" cy="565.1" r="6.65"/><circle cx="534.5" cy="570.0" r="6.65"/><circle cx="534.5" cy="599.8" r="6.65"/><circle cx="534.5" cy="574.3" r="6.65"/><circle cx="534.5" cy="567.7" r="6.65"/><circle cx="534.5" cy="501.6" r="6.65"/><circle cx="534.5" cy="610.6" r="6.65"/><circle cx="534.5" cy="574.6" r="6.65"/><circle cx="534.5" cy="555.4" r="6.65"/><circle cx="534.5" cy="613.2" r="6.65"/><circle cx="534.5" cy="570.9" r="6.65"/><circle cx="534.5" cy="571.9" r="6.65"/><circle cx="534.5" cy="539.2" r="6.65"/><circle cx="534.5" cy="548.3" r="6.65"/><circle cx="534.5" cy="628.5" r="6.65"/><circle cx="534.5" cy="599.9" r="6.65"/><circle cx="534.5" cy="619.3" r="6.65"/><circle cx="534.5" cy="550.4" r="6.65"/><circle cx="534.5" cy="559.4" r="6.65"/><circle cx="534.5" cy="598.4" r="6.65"/><circle cx="534.5" cy="594.3" r="6.65"/><circle cx="534.5" cy="505.2" r="6.65"/><circle cx="534.5" cy="609.8" r="6.65"/><circle cx="534.5" cy="572.0" r="6.65"/><circle cx="534.5" cy="563.5" r="6.65"/><circle cx="534.5" cy="522.1" r="6.65"/><circle cx="534.5" cy="562.6" r="6.65"/><circle cx="534.5" cy="583.0" r="6.65"/><circle cx="534.5" cy="573.3" r="6.65"/><circle cx="534.5" cy="629.0" r="6.65"/><circle cx="534.5" cy="558.4" r="6.65"/><circle cx="534.5" cy="556.8" r="6.65"/><circle cx="534.5" cy="634.7" r="6.65"/><circle cx="534.5" cy="567.9" r="6.65"/><circle cx="534.5" cy="607.9" r="6.65"/><circle cx="534.5" cy="573.3" r="6.65"/><circle cx="534.5" cy="556.1" r="6.65"/><circle cx="534.5" cy="502.3" r="6.65"/><circle cx="534.5" cy="497.0" r="6.65"/><circle cx="534.5" cy="487.7" r="6.65"/><circle cx="534.5" cy="508.8" r="6.65"/><circle cx="534.5" cy="562.9" r="6.65"/><circle cx="534.5" cy="478.1" r="6.65"/><circle cx="534.5" cy="423.0" r="6.65"/><circle cx="534.5" cy="543.8" r="6.65"/><circle cx="534.5" cy="507.0" r="6.65"/><circle cx="534.5" cy="503.9" r="6.65"/><circle cx="534.5" cy="480.4" r="6.65"/><circle cx="534.5" cy="483.9" r="6.65"/><circle cx="534.5" cy="560.8" r="6.65"/><circle cx="534.5" cy="502.1" r="6.65"/><circle cx="534.5" cy="488.3" r="6.65"/><circle cx="534.5" cy="629.4" r="6.65"/><circle cx="534.5" cy="488.1" r="6.65"/><circle cx="534.5" cy="535.2" r="6.65"/><circle cx="534.5" cy="463.3" r="6.65"/><circle cx="534.5" cy="528.8" r="6.65"/><circle cx="534.5" cy="454.7" r="6.65"/><circle cx="534.5" cy="617.2" r="6.65"/><circle cx="534.5" cy="479.2" r="6.65"/><circle cx="534.5" cy="419.2" r="6.65"/><circle cx="534.5" cy="506.9" r="6.65"/><circle cx="534.5" cy="517.2" r="6.65"/><circle cx="534.5" cy="424.2" r="6.65"/><circle cx="534.5" cy="500.1" r="6.65"/><circle cx="534.5" cy="441.7" r="6.65"/><circle cx="534.5" cy="566.0" r="6.65"/><circle cx="534.5" cy="586.8" r="6.65"/><circle cx="534.5" cy="472.0" r="6.65"/><circle cx="534.5" cy="426.2" r="6.65"/><circle cx="534.5" cy="518.3" r="6.65"/><circle cx="534.5" cy="472.0" r="6.65"/><circle cx="534.5" cy="455.1" r="6.65"/><circle cx="534.5" cy="495.7" r="6.65"/><circle cx="534.5" cy="450.9" r="6.65"/><circle cx="534.5" cy="530.8" r="6.65"/><circle cx="534.5" cy="612.8" r="6.65"/><circle cx="534.5" cy="454.9" r="6.65"/><circle cx="534.5" cy="490.1" r="6.65"/><circle cx="534.5" cy="529.2" r="6.65"/><circle cx="534.5" cy="572.8" r="6.65"/><circle cx="534.5" cy="526.2" r="6.65"/><circle cx="534.5" cy="530.0" r="6.65"/><circle cx="534.5" cy="463.2" r="6.65"/><circle cx="534.5" cy="507.1" r="6.65"/><circle cx="534.5" cy="541.7" r="6.65"/><circle cx="534.5" cy="534.7" r="6.65"/><circle cx="534.5" cy="569.7" r="6.65"/><circle cx="534.5" cy="536.6" r="6.65"/><circle cx="534.5" cy="430.0" r="6.65"/><circle cx="534.5" cy="406.1" r="6.65"/><circle cx="534.5" cy="432.1" r="6.65"/><circle cx="534.5" cy="467.7" r="6.65"/><circle cx="534.5" cy="438.5" r="6.65"/><circle cx="534.5" cy="395.9" r="6.65"/><circle cx="534.5" cy="433.6" r="6.65"/><circle cx="534.5" cy="436.9" r="6.65"/><circle cx="534.5" cy="397.8" r="6.65"/><circle cx="534.5" cy="446.6" r="6.65"/><circle cx="534.5" cy="421.4" r="6.65"/><circle cx="534.5" cy="462.3" r="6.65"/><circle cx="534.5" cy="471.3" r="6.65"/><circle cx="534.5" cy="454.2" r="6.65"/><circle cx="534.5" cy="390.3" r="6.65"/><circle cx="534.5" cy="397.3" r="6.65"/><circle cx="534.5" cy="404.2" r="6.65"/></g>
<g fill="#363a3b"><circle cx="534.5" cy="437.0" r="6.65"/><circle cx="534.5" cy="264.0" r="6.65"/><circle cx="534.5" cy="290.1" r="6.65"/><circle cx="534.5" cy="366.0" r="6.65"/><circle cx="534.5" cy="437.3" r="6.65"/><circle cx="534.5" cy="444.2" r="6.65"/><circle cx="534.5" cy="644.7" r="6.65"/><circle cx="534.5" cy="649.6" r="6.65"/><circle cx="534.5" cy="415.2" r="6.65"/><circle cx="534.5" cy="458.7" r="6.65"/><circle cx="534.5" cy="499.3" r="6.65"/><circle cx="534.5" cy="400.8" r="6.65"/><circle cx="534.5" cy="531.1" r="6.65"/><circle cx="534.5" cy="481.9" r="6.65"/><circle cx="534.5" cy="429.7" r="6.65"/><circle cx="534.5" cy="510.9" r="6.65"/><circle cx="534.5" cy="642.0" r="6.65"/><circle cx="534.5" cy="647.4" r="6.65"/><circle cx="534.5" cy="640.1" r="6.65"/><circle cx="534.5" cy="644.9" r="6.65"/><circle cx="534.5" cy="643.3" r="6.65"/><circle cx="534.5" cy="618.3" r="6.65"/><circle cx="534.5" cy="493.1" r="6.65"/><circle cx="534.5" cy="514.4" r="6.65"/><circle cx="534.5" cy="570.5" r="6.65"/><circle cx="534.5" cy="628.6" r="6.65"/><circle cx="534.5" cy="558.0" r="6.65"/><circle cx="534.5" cy="593.0" r="6.65"/><circle cx="534.5" cy="642.5" r="6.65"/><circle cx="534.5" cy="537.2" r="6.65"/><circle cx="534.5" cy="590.2" r="6.65"/><circle cx="534.5" cy="580.6" r="6.65"/><circle cx="534.5" cy="592.8" r="6.65"/><circle cx="534.5" cy="449.2" r="6.65"/><circle cx="534.5" cy="548.3" r="6.65"/><circle cx="534.5" cy="619.1" r="6.65"/><circle cx="534.5" cy="558.4" r="6.65"/><circle cx="534.5" cy="567.0" r="6.65"/><circle cx="534.5" cy="586.6" r="6.65"/><circle cx="534.5" cy="504.2" r="6.65"/><circle cx="534.5" cy="608.2" r="6.65"/><circle cx="534.5" cy="528.1" r="6.65"/><circle cx="534.5" cy="537.3" r="6.65"/><circle cx="534.5" cy="557.2" r="6.65"/><circle cx="534.5" cy="550.0" r="6.65"/><circle cx="534.5" cy="580.3" r="6.65"/><circle cx="534.5" cy="531.0" r="6.65"/><circle cx="534.5" cy="609.7" r="6.65"/><circle cx="534.5" cy="573.1" r="6.65"/><circle cx="534.5" cy="589.3" r="6.65"/><circle cx="534.5" cy="583.4" r="6.65"/><circle cx="534.5" cy="548.2" r="6.65"/><circle cx="534.5" cy="616.0" r="6.65"/><circle cx="534.5" cy="591.0" r="6.65"/><circle cx="534.5" cy="608.9" r="6.65"/><circle cx="534.5" cy="485.3" r="6.65"/><circle cx="534.5" cy="580.8" r="6.65"/><circle cx="534.5" cy="595.0" r="6.65"/><circle cx="534.5" cy="548.4" r="6.65"/><circle cx="534.5" cy="537.5" r="6.65"/><circle cx="534.5" cy="603.3" r="6.65"/><circle cx="534.5" cy="550.6" r="6.65"/><circle cx="534.5" cy="584.5" r="6.65"/><circle cx="534.5" cy="562.4" r="6.65"/><circle cx="534.5" cy="616.4" r="6.65"/><circle cx="534.5" cy="592.2" r="6.65"/><circle cx="534.5" cy="562.2" r="6.65"/><circle cx="534.5" cy="537.5" r="6.65"/><circle cx="534.5" cy="575.3" r="6.65"/><circle cx="534.5" cy="503.4" r="6.65"/><circle cx="534.5" cy="583.8" r="6.65"/><circle cx="534.5" cy="498.4" r="6.65"/><circle cx="534.5" cy="557.1" r="6.65"/><circle cx="534.5" cy="579.8" r="6.65"/><circle cx="534.5" cy="576.7" r="6.65"/><circle cx="534.5" cy="527.7" r="6.65"/><circle cx="534.5" cy="603.9" r="6.65"/><circle cx="534.5" cy="561.7" r="6.65"/><circle cx="534.5" cy="569.5" r="6.65"/><circle cx="534.5" cy="540.3" r="6.65"/><circle cx="534.5" cy="610.6" r="6.65"/><circle cx="534.5" cy="512.5" r="6.65"/><circle cx="534.5" cy="573.8" r="6.65"/><circle cx="534.5" cy="551.2" r="6.65"/><circle cx="534.5" cy="622.5" r="6.65"/><circle cx="534.5" cy="590.4" r="6.65"/><circle cx="534.5" cy="625.1" r="6.65"/><circle cx="534.5" cy="586.6" r="6.65"/><circle cx="534.5" cy="537.0" r="6.65"/><circle cx="534.5" cy="601.2" r="6.65"/><circle cx="534.5" cy="567.9" r="6.65"/><circle cx="534.5" cy="624.2" r="6.65"/><circle cx="534.5" cy="588.9" r="6.65"/><circle cx="534.5" cy="551.0" r="6.65"/><circle cx="534.5" cy="636.4" r="6.65"/><circle cx="534.5" cy="573.3" r="6.65"/><circle cx="534.5" cy="582.2" r="6.65"/><circle cx="534.5" cy="570.4" r="6.65"/><circle cx="534.5" cy="521.9" r="6.65"/><circle cx="534.5" cy="577.9" r="6.65"/><circle cx="534.5" cy="528.8" r="6.65"/><circle cx="534.5" cy="568.4" r="6.65"/><circle cx="534.5" cy="520.8" r="6.65"/><circle cx="534.5" cy="565.1" r="6.65"/><circle cx="534.5" cy="570.0" r="6.65"/><circle cx="534.5" cy="599.8" r="6.65"/><circle cx="534.5" cy="574.3" r="6.65"/><circle cx="534.5" cy="567.7" r="6.65"/><circle cx="534.5" cy="501.6" r="6.65"/><circle cx="534.5" cy="610.6" r="6.65"/><circle cx="534.5" cy="574.6" r="6.65"/><circle cx="534.5" cy="555.4" r="6.65"/><circle cx="534.5" cy="613.2" r="6.65"/><circle cx="534.5" cy="570.9" r="6.65"/><circle cx="534.5" cy="571.9" r="6.65"/><circle cx="534.5" cy="539.2" r="6.65"/><circle cx="534.5" cy="548.3" r="6.65"/><circle cx="534.5" cy="628.5" r="6.65"/><circle cx="534.5" cy="599.9" r="6.65"/><circle cx="534.5" cy="619.3" r="6.65"/><circle cx="534.5" cy="550.4" r="6.65"/><circle cx="534.5" cy="559.4" r="6.65"/><circle cx="534.5" cy="598.4" r="6.65"/><circle cx="534.5" cy="594.3" r="6.65"/><circle cx="534.5" cy="505.2" r="6.65"/><circle cx="534.5" cy="609.8" r="6.65"/><circle cx="534.5" cy="572.0" r="6.65"/><circle cx="534.5" cy="563.5" r="6.65"/><circle cx="534.5" cy="522.1" r="6.65"/><circle cx="534.5" cy="562.6" r="6.65"/><circle cx="534.5" cy="583.0" r="6.65"/><circle cx="534.5" cy="573.3" r="6.65"/><circle cx="534.5" cy="629.0" r="6.65"/><circle cx="534.5" cy="558.4" r="6.65"/><circle cx="534.5" cy="556.8" r="6.65"/><circle cx="534.5" cy="634.7" r="6.65"/><circle cx="534.5" cy="567.9" r="6.65"/><circle cx="534.5" cy="607.9" r="6.65"/><circle cx="534.5" cy="573.3" r="6.65"/><circle cx="534.5" cy="556.1" r="6.65"/><circle cx="534.5" cy="502.3" r="6.65"/><circle cx="534.5" cy="497.0" r="6.65"/><circle cx="534.5" cy="487.7" r="6.65"/><circle cx="534.5" cy="508.8" r="6.65"/><circle cx="534.5" cy="562.9" r="6.65"/><circle cx="534.5" cy="478.1" r="6.65"/><circle cx="534.5" cy="423.0" r="6.65"/><circle cx="534.5" cy="543.8" r="6.65"/><circle cx="534.5" cy="507.0" r="6.65"/><circle cx="534.5" cy="503.9" r="6.65"/><circle cx="534.5" cy="480.4" r="6.65"/><circle cx="534.5" cy="483.9" r="6.65"/><circle cx="534.5" cy="560.8" r="6.65"/><circle cx="534.5" cy="502.1" r="6.65"/><circle cx="534.5" cy="488.3" r="6.65"/><circle cx="534.5" cy="629.4" r="6.65"/><circle cx="534.5" cy="488.1" r="6.65"/><circle cx="534.5" cy="535.2" r="6.65"/><circle cx="534.5" cy="463.3" r="6.65"/><circle cx="534.5" cy="528.8" r="6.65"/><circle cx="534.5" cy="454.7" r="6.65"/><circle cx="534.5" cy="617.2" r="6.65"/><circle cx="534.5" cy="479.2" r="6.65"/><circle cx="534.5" cy="419.2" r="6.65"/><circle cx="534.5" cy="506.9" r="6.65"/><circle cx="534.5" cy="517.2" r="6.65"/><circle cx="534.5" cy="424.2" r="6.65"/><circle cx="534.5" cy="500.1" r="6.65"/><circle cx="534.5" cy="441.7" r="6.65"/><circle cx="534.5" cy="566.0" r="6.65"/><circle cx="534.5" cy="586.8" r="6.65"/><circle cx="534.5" cy="472.0" r="6.65"/><circle cx="534.5" cy="426.2" r="6.65"/><circle cx="534.5" cy="518.3" r="6.65"/><circle cx="534.5" cy="472.0" r="6.65"/><circle cx="534.5" cy="455.1" r="6.65"/><circle cx="534.5" cy="495.7" r="6.65"/><circle cx="534.5" cy="450.9" r="6.65"/><circle cx="534.5" cy="530.8" r="6.65"/><circle cx="534.5" cy="612.8" r="6.65"/><circle cx="534.5" cy="454.9" r="6.65"/><circle cx="534.5" cy="490.1" r="6.65"/><circle cx="534.5" cy="529.2" r="6.65"/><circle cx="534.5" cy="572.8" r="6.65"/><circle cx="534.5" cy="526.2" r="6.65"/><circle cx="534.5" cy="530.0" r="6.65"/><circle cx="534.5" cy="463.2" r="6.65"/><circle cx="534.5" cy="507.1" r="6.65"/><circle cx="534.5" cy="541.7" r="6.65"/><circle cx="534.5" cy="534.7" r="6.65"/><circle cx="534.5" cy="569.7" r="6.65"/><circle cx="534.5" cy="536.6" r="6.65"/><circle cx="534.5" cy="430.0" r="6.65"/><circle cx="534.5" cy="406.1" r="6.65"/><circle cx="534.5" cy="432.1" r="6.65"/><circle cx="534.5" cy="467.7" r="6.65"/><circle cx="534.5" cy="438.5" r="6.65"/><circle cx="534.5" cy="395.9" r="6.65"/><circle cx="534.5" cy="433.6" r="6.65"/><circle cx="534.5" cy="436.9" r="6.65"/><circle cx="534.5" cy="397.8" r="6.65"/><circle cx="534.5" cy="446.6" r="6.65"/><circle cx="534.5" cy="421.4" r="6.65"/><circle cx="534.5" cy="462.3" r="6.65"/><circle cx="534.5" cy="471.3" r="6.65"/><circle cx="534.5" cy="454.2" r="6.65"/><circle cx="534.5" cy="390.3" r="6.65"/><circle cx="534.5" cy="397.3" r="6.65"/><circle cx="534.5" cy="404.2" r="6.65"/></g>
<!-- Panel B -->
<text class="b" x="841" y="25.9" font-size="31">B</text>
<g stroke="#000" stroke-width="5" fill="none">
<line x1="994.7" y1="132.4" x2="994.7" y2="674"/>
<line x1="977.5" y1="657.8" x2="1744.2" y2="657.8"/>
<line x1="977.5" y1="135.1" x2="994.7" y2="135.1"/><line x1="977.5" y1="239.7" x2="994.7" y2="239.7"/><line x1="977.5" y1="344.3" x2="994.7" y2="344.3"/><line x1="977.5" y1="448.9" x2="994.7" y2="448.9"/><line x1="977.5" y1="553.5" x2="994.7" y2="553.5"/><line x1="1182.0" y1="657.8" x2="1182.0" y2="674"/><line x1="1369.3" y1="657.8" x2="1369.3" y2="674"/><line x1="1556.6" y1="657.8" x2="1556.6" y2="674"/><line x1="1744.0" y1="657.8" x2="1744.0" y2="674"/>
</g>
<text class="b" x="974.3" y="145.1" font-size="29" text-anchor="end">20000</text><text class="b" x="974.3" y="249.7" font-size="29" text-anchor="end">10000</text><text class="b" x="974.3" y="354.3" font-size="29" text-anchor="end">0</text><text class="b" x="974.3" y="458.9" font-size="29" text-anchor="end">-10000</text><text class="b" x="974.3" y="563.5" font-size="29" text-anchor="end">-20000</text><text class="b" x="974.3" y="668.1" font-size="29" text-anchor="end">-30000</text><text class="b" x="994.6" y="706.3" font-size="29.2" text-anchor="middle">-100</text><text class="b" x="1182.0" y="706.3" font-size="29.2" text-anchor="middle">-50</text><text class="b" x="1369.3" y="706.3" font-size="29.2" text-anchor="middle">0</text><text class="b" x="1556.6" y="706.3" font-size="29.2" text-anchor="middle">50</text><text class="b" x="1744.0" y="706.3" font-size="29.2" text-anchor="middle">100</text>
<text class="b" x="1367.5" y="753.3" font-size="30.5" text-anchor="middle"><tspan class="sym" font-size="33" stroke="#000" stroke-width="0.5">Δ</tspan>Betaine, <tspan class="mu">μ</tspan>M</text>
<text class="b" transform="translate(867 397.4) rotate(-90)" font-size="30.5" text-anchor="middle" letter-spacing="1"><tspan class="sym" font-size="33" stroke="#000" stroke-width="0.5">Δ</tspan>NT-proBNP, ng/L</text>
<text x="1057" y="163.5" font-size="31">r=0.25, <tspan font-style="italic">P</tspan>&lt;0.001</text>
<g fill="#000"><circle cx="1005.7" cy="344.2" r="2.1"/><circle cx="1017.1" cy="344.2" r="2.1"/><circle cx="1028.5" cy="344.2" r="2.1"/><circle cx="1040.0" cy="344.2" r="2.1"/><circle cx="1051.4" cy="344.2" r="2.1"/><circle cx="1062.8" cy="344.2" r="2.1"/><circle cx="1074.2" cy="344.2" r="2.1"/><circle cx="1085.6" cy="344.2" r="2.1"/><circle cx="1097.1" cy="344.2" r="2.1"/><circle cx="1108.5" cy="344.2" r="2.1"/><circle cx="1119.9" cy="344.2" r="2.1"/><circle cx="1131.3" cy="344.2" r="2.1"/><circle cx="1142.7" cy="344.2" r="2.1"/><circle cx="1154.2" cy="344.2" r="2.1"/><circle cx="1165.6" cy="344.2" r="2.1"/><circle cx="1177.0" cy="344.2" r="2.1"/><circle cx="1188.4" cy="344.2" r="2.1"/><circle cx="1199.8" cy="344.2" r="2.1"/><circle cx="1211.3" cy="344.2" r="2.1"/><circle cx="1222.7" cy="344.2" r="2.1"/><circle cx="1234.1" cy="344.2" r="2.1"/><circle cx="1245.5" cy="344.2" r="2.1"/><circle cx="1256.9" cy="344.2" r="2.1"/><circle cx="1268.4" cy="344.2" r="2.1"/><circle cx="1279.8" cy="344.2" r="2.1"/><circle cx="1291.2" cy="344.2" r="2.1"/><circle cx="1302.6" cy="344.2" r="2.1"/><circle cx="1314.0" cy="344.2" r="2.1"/><circle cx="1325.5" cy="344.2" r="2.1"/><circle cx="1336.9" cy="344.2" r="2.1"/><circle cx="1348.3" cy="344.2" r="2.1"/><circle cx="1359.7" cy="344.2" r="2.1"/><circle cx="1371.1" cy="344.2" r="2.1"/><circle cx="1382.6" cy="344.2" r="2.1"/><circle cx="1394.0" cy="344.2" r="2.1"/><circle cx="1405.4" cy="344.2" r="2.1"/><circle cx="1416.8" cy="344.2" r="2.1"/><circle cx="1428.2" cy="344.2" r="2.1"/><circle cx="1439.7" cy="344.2" r="2.1"/><circle cx="1451.1" cy="344.2" r="2.1"/><circle cx="1462.5" cy="344.2" r="2.1"/><circle cx="1473.9" cy="344.2" r="2.1"/><circle cx="1485.3" cy="344.2" r="2.1"/><circle cx="1496.8" cy="344.2" r="2.1"/><circle cx="1508.2" cy="344.2" r="2.1"/><circle cx="1519.6" cy="344.2" r="2.1"/><circle cx="1531.0" cy="344.2" r="2.1"/><circle cx="1542.4" cy="344.2" r="2.1"/><circle cx="1553.9" cy="344.2" r="2.1"/><circle cx="1565.3" cy="344.2" r="2.1"/><circle cx="1576.7" cy="344.2" r="2.1"/><circle cx="1588.1" cy="344.2" r="2.1"/><circle cx="1599.5" cy="344.2" r="2.1"/><circle cx="1611.0" cy="344.2" r="2.1"/><circle cx="1622.4" cy="344.2" r="2.1"/><circle cx="1633.8" cy="344.2" r="2.1"/><circle cx="1645.2" cy="344.2" r="2.1"/><circle cx="1656.6" cy="344.2" r="2.1"/><circle cx="1668.1" cy="344.2" r="2.1"/><circle cx="1679.5" cy="344.2" r="2.1"/><circle cx="1690.9" cy="344.2" r="2.1"/><circle cx="1702.3" cy="344.2" r="2.1"/><circle cx="1713.7" cy="344.2" r="2.1"/><circle cx="1725.2" cy="344.2" r="2.1"/></g>
<line x1="1017.2" y1="356.3" x2="1620.6" y2="340.5" stroke="#2e3232" stroke-width="8.6"/>
<g fill="#850000" stroke="#850000" stroke-width="1.0"><circle cx="1245.0" cy="343.3" r="6.85"/><circle cx="1249.0" cy="351.7" r="6.85"/><circle cx="1253.5" cy="343.3" r="6.85"/><circle cx="1257.5" cy="353.3" r="6.85"/><circle cx="1262.0" cy="341.7" r="6.85"/><circle cx="1266.0" cy="353.3" r="6.85"/><circle cx="1270.5" cy="341.7" r="6.85"/><circle cx="1274.5" cy="353.3" r="6.85"/><circle cx="1279.0" cy="343.3" r="6.85"/><circle cx="1283.0" cy="353.3" r="6.85"/><circle cx="1287.5" cy="343.3" r="6.85"/><circle cx="1291.5" cy="351.7" r="6.85"/><circle cx="1296.0" cy="341.7" r="6.85"/><circle cx="1300.0" cy="351.7" r="6.85"/><circle cx="1304.5" cy="341.7" r="6.85"/><circle cx="1308.5" cy="353.3" r="6.85"/><circle cx="1313.0" cy="343.3" r="6.85"/><circle cx="1317.0" cy="353.3" r="6.85"/><circle cx="1321.5" cy="343.3" r="6.85"/><circle cx="1325.5" cy="353.3" r="6.85"/><circle cx="1330.0" cy="341.7" r="6.85"/><circle cx="1334.0" cy="353.3" r="6.85"/><circle cx="1338.5" cy="341.7" r="6.85"/><circle cx="1342.5" cy="351.7" r="6.85"/><circle cx="1347.0" cy="343.3" r="6.85"/><circle cx="1351.0" cy="351.7" r="6.85"/><circle cx="1355.5" cy="343.3" r="6.85"/><circle cx="1359.5" cy="353.3" r="6.85"/><circle cx="1364.0" cy="341.7" r="6.85"/><circle cx="1368.0" cy="353.3" r="6.85"/><circle cx="1372.5" cy="341.7" r="6.85"/><circle cx="1376.5" cy="353.3" r="6.85"/><circle cx="1381.0" cy="343.3" r="6.85"/><circle cx="1385.0" cy="353.3" r="6.85"/><circle cx="1389.5" cy="343.3" r="6.85"/><circle cx="1393.5" cy="351.7" r="6.85"/><circle cx="1398.0" cy="341.7" r="6.85"/><circle cx="1402.0" cy="351.7" r="6.85"/><circle cx="1406.5" cy="341.7" r="6.85"/><circle cx="1410.5" cy="353.3" r="6.85"/><circle cx="1415.0" cy="343.3" r="6.85"/><circle cx="1419.0" cy="353.3" r="6.85"/><circle cx="1423.5" cy="343.3" r="6.85"/><circle cx="1427.5" cy="353.3" r="6.85"/><circle cx="1432.0" cy="341.7" r="6.85"/><circle cx="1436.0" cy="353.3" r="6.85"/><circle cx="1432.0" cy="339.5" r="6.85"/><circle cx="1436.0" cy="346.5" r="6.85"/><circle cx="1440.5" cy="339.5" r="6.85"/><circle cx="1444.5" cy="346.5" r="6.85"/><circle cx="1449.0" cy="339.5" r="6.85"/><circle cx="1453.0" cy="346.5" r="6.85"/><circle cx="1457.5" cy="339.5" r="6.85"/><circle cx="1461.5" cy="346.5" r="6.85"/><circle cx="1466.0" cy="339.5" r="6.85"/><circle cx="1470.0" cy="346.5" r="6.85"/><circle cx="1016.8" cy="328.5" r="6.85"/><circle cx="1070.6" cy="357.6" r="6.85"/><circle cx="1083.9" cy="360.8" r="6.85"/><circle cx="1112.9" cy="350.6" r="6.85"/><circle cx="1125.0" cy="334.1" r="6.85"/><circle cx="1132.5" cy="349.0" r="6.85"/><circle cx="1132.5" cy="356.9" r="6.85"/><circle cx="1164.7" cy="344.3" r="6.85"/><circle cx="1164.7" cy="349.0" r="6.85"/><circle cx="1189.0" cy="345.5" r="6.85"/><circle cx="1210.2" cy="345.1" r="6.85"/><circle cx="1219.6" cy="342.0" r="6.85"/><circle cx="1229.0" cy="347.4" r="6.85"/><circle cx="1219.6" cy="356.9" r="6.85"/><circle cx="1215.5" cy="371.5" r="6.85"/><circle cx="1247.8" cy="347.4" r="6.85"/><circle cx="1253.2" cy="353.2" r="6.85"/><circle cx="1260.5" cy="342.2" r="6.85"/><circle cx="1260.5" cy="364.2" r="6.85"/><circle cx="1275.2" cy="358.7" r="6.85"/><circle cx="1275.2" cy="344.0" r="6.85"/><circle cx="1289.8" cy="342.2" r="6.85"/><circle cx="1291.7" cy="364.2" r="6.85"/><circle cx="1292.6" cy="367.9" r="6.85"/><circle cx="1304.5" cy="340.4" r="6.85"/><circle cx="1313.6" cy="336.7" r="6.85"/><circle cx="1315.5" cy="356.9" r="6.85"/><circle cx="1326.4" cy="344.0" r="6.85"/><circle cx="1333.8" cy="338.6" r="6.85"/><circle cx="1341.1" cy="349.6" r="6.85"/><circle cx="1352.0" cy="340.4" r="6.85"/><circle cx="1356.6" cy="327.6" r="6.85"/><circle cx="1363.0" cy="338.6" r="6.85"/><circle cx="1370.4" cy="356.9" r="6.85"/><circle cx="1381.4" cy="344.0" r="6.85"/><circle cx="1385.0" cy="358.7" r="6.85"/><circle cx="1396.0" cy="336.7" r="6.85"/><circle cx="1399.7" cy="358.7" r="6.85"/><circle cx="1409.7" cy="325.8" r="6.85"/><circle cx="1410.6" cy="345.9" r="6.85"/><circle cx="1423.5" cy="333.1" r="6.85"/><circle cx="1425.3" cy="349.6" r="6.85"/><circle cx="1369.0" cy="342.3" r="6.85"/><circle cx="1367.8" cy="358.0" r="6.85"/><circle cx="1383.5" cy="341.0" r="6.85"/><circle cx="1383.5" cy="358.0" r="6.85"/><circle cx="1397.9" cy="337.1" r="6.85"/><circle cx="1397.9" cy="359.3" r="6.85"/><circle cx="1412.3" cy="351.4" r="6.85"/><circle cx="1429.3" cy="347.5" r="6.85"/><circle cx="1435.2" cy="363.2" r="6.85"/><circle cx="1445.6" cy="332.5" r="6.85"/><circle cx="1451.5" cy="347.5" r="6.85"/><circle cx="1460.7" cy="344.2" r="6.85"/><circle cx="1476.1" cy="324.6" r="6.85"/><circle cx="1480.9" cy="345.6" r="6.85"/><circle cx="1480.9" cy="375.6" r="6.85"/><circle cx="1507.1" cy="338.6" r="6.85"/><circle cx="1526.6" cy="344.6" r="6.85"/><circle cx="1553.1" cy="346.6" r="6.85"/><circle cx="1568.7" cy="337.8" r="6.85"/><circle cx="1613.2" cy="339.0" r="6.85"/><circle cx="1618.6" cy="262.8" r="6.85"/><circle cx="1425.1" cy="155.1" r="6.85"/><circle cx="1423.8" cy="576.3" r="6.85"/><circle cx="1313.6" cy="298.3" r="6.85"/><circle cx="1318.8" cy="380.4" r="6.85"/><circle cx="1328.2" cy="379.4" r="6.85"/><circle cx="1334.5" cy="366.9" r="6.85"/><circle cx="1349.5" cy="368.8" r="6.85"/><circle cx="1351.7" cy="383.5" r="6.85"/><circle cx="1332.0" cy="397.6" r="6.85"/><circle cx="1386.2" cy="400.1" r="6.85"/><circle cx="1397.2" cy="400.1" r="6.85"/><circle cx="1259.6" cy="362.4" r="6.85"/><circle cx="1290.7" cy="361.5" r="6.85"/><circle cx="1434.8" cy="364.7" r="6.85"/><circle cx="1249.3" cy="347" r="6.85"/><circle cx="1259.7" cy="339.2" r="6.85"/><circle cx="1271.5" cy="344.4" r="6.85"/><circle cx="1291" cy="343.1" r="6.85"/><circle cx="1304" cy="339.2" r="6.85"/><circle cx="1314.6" cy="357.5" r="6.85"/><circle cx="1323.7" cy="343.1" r="6.85"/><circle cx="1240" cy="350" r="6.85"/><circle cx="1268" cy="352" r="6.85"/><circle cx="1282" cy="350" r="6.85"/><circle cx="1298" cy="352" r="6.85"/><circle cx="1308" cy="348" r="6.85"/><circle cx="1320" cy="350" r="6.85"/><circle cx="1336" cy="352" r="6.85"/><circle cx="1346" cy="356" r="6.85"/><circle cx="1358" cy="350" r="6.85"/><circle cx="1375" cy="350" r="6.85"/><circle cx="1390" cy="348" r="6.85"/><circle cx="1404" cy="350" r="6.85"/><circle cx="1418" cy="340" r="6.85"/><circle cx="1440" cy="340" r="6.85"/></g>
<g fill="#b40000"><circle cx="1245.0" cy="343.3" r="6.85"/><circle cx="1249.0" cy="351.7" r="6.85"/><circle cx="1253.5" cy="343.3" r="6.85"/><circle cx="1257.5" cy="353.3" r="6.85"/><circle cx="1262.0" cy="341.7" r="6.85"/><circle cx="1266.0" cy="353.3" r="6.85"/><circle cx="1270.5" cy="341.7" r="6.85"/><circle cx="1274.5" cy="353.3" r="6.85"/><circle cx="1279.0" cy="343.3" r="6.85"/><circle cx="1283.0" cy="353.3" r="6.85"/><circle cx="1287.5" cy="343.3" r="6.85"/><circle cx="1291.5" cy="351.7" r="6.85"/><circle cx="1296.0" cy="341.7" r="6.85"/><circle cx="1300.0" cy="351.7" r="6.85"/><circle cx="1304.5" cy="341.7" r="6.85"/><circle cx="1308.5" cy="353.3" r="6.85"/><circle cx="1313.0" cy="343.3" r="6.85"/><circle cx="1317.0" cy="353.3" r="6.85"/><circle cx="1321.5" cy="343.3" r="6.85"/><circle cx="1325.5" cy="353.3" r="6.85"/><circle cx="1330.0" cy="341.7" r="6.85"/><circle cx="1334.0" cy="353.3" r="6.85"/><circle cx="1338.5" cy="341.7" r="6.85"/><circle cx="1342.5" cy="351.7" r="6.85"/><circle cx="1347.0" cy="343.3" r="6.85"/><circle cx="1351.0" cy="351.7" r="6.85"/><circle cx="1355.5" cy="343.3" r="6.85"/><circle cx="1359.5" cy="353.3" r="6.85"/><circle cx="1364.0" cy="341.7" r="6.85"/><circle cx="1368.0" cy="353.3" r="6.85"/><circle cx="1372.5" cy="341.7" r="6.85"/><circle cx="1376.5" cy="353.3" r="6.85"/><circle cx="1381.0" cy="343.3" r="6.85"/><circle cx="1385.0" cy="353.3" r="6.85"/><circle cx="1389.5" cy="343.3" r="6.85"/><circle cx="1393.5" cy="351.7" r="6.85"/><circle cx="1398.0" cy="341.7" r="6.85"/><circle cx="1402.0" cy="351.7" r="6.85"/><circle cx="1406.5" cy="341.7" r="6.85"/><circle cx="1410.5" cy="353.3" r="6.85"/><circle cx="1415.0" cy="343.3" r="6.85"/><circle cx="1419.0" cy="353.3" r="6.85"/><circle cx="1423.5" cy="343.3" r="6.85"/><circle cx="1427.5" cy="353.3" r="6.85"/><circle cx="1432.0" cy="341.7" r="6.85"/><circle cx="1436.0" cy="353.3" r="6.85"/><circle cx="1432.0" cy="339.5" r="6.85"/><circle cx="1436.0" cy="346.5" r="6.85"/><circle cx="1440.5" cy="339.5" r="6.85"/><circle cx="1444.5" cy="346.5" r="6.85"/><circle cx="1449.0" cy="339.5" r="6.85"/><circle cx="1453.0" cy="346.5" r="6.85"/><circle cx="1457.5" cy="339.5" r="6.85"/><circle cx="1461.5" cy="346.5" r="6.85"/><circle cx="1466.0" cy="339.5" r="6.85"/><circle cx="1470.0" cy="346.5" r="6.85"/><circle cx="1016.8" cy="328.5" r="6.85"/><circle cx="1070.6" cy="357.6" r="6.85"/><circle cx="1083.9" cy="360.8" r="6.85"/><circle cx="1112.9" cy="350.6" r="6.85"/><circle cx="1125.0" cy="334.1" r="6.85"/><circle cx="1132.5" cy="349.0" r="6.85"/><circle cx="1132.5" cy="356.9" r="6.85"/><circle cx="1164.7" cy="344.3" r="6.85"/><circle cx="1164.7" cy="349.0" r="6.85"/><circle cx="1189.0" cy="345.5" r="6.85"/><circle cx="1210.2" cy="345.1" r="6.85"/><circle cx="1219.6" cy="342.0" r="6.85"/><circle cx="1229.0" cy="347.4" r="6.85"/><circle cx="1219.6" cy="356.9" r="6.85"/><circle cx="1215.5" cy="371.5" r="6.85"/><circle cx="1247.8" cy="347.4" r="6.85"/><circle cx="1253.2" cy="353.2" r="6.85"/><circle cx="1260.5" cy="342.2" r="6.85"/><circle cx="1260.5" cy="364.2" r="6.85"/><circle cx="1275.2" cy="358.7" r="6.85"/><circle cx="1275.2" cy="344.0" r="6.85"/><circle cx="1289.8" cy="342.2" r="6.85"/><circle cx="1291.7" cy="364.2" r="6.85"/><circle cx="1292.6" cy="367.9" r="6.85"/><circle cx="1304.5" cy="340.4" r="6.85"/><circle cx="1313.6" cy="336.7" r="6.85"/><circle cx="1315.5" cy="356.9" r="6.85"/><circle cx="1326.4" cy="344.0" r="6.85"/><circle cx="1333.8" cy="338.6" r="6.85"/><circle cx="1341.1" cy="349.6" r="6.85"/><circle cx="1352.0" cy="340.4" r="6.85"/><circle cx="1356.6" cy="327.6" r="6.85"/><circle cx="1363.0" cy="338.6" r="6.85"/><circle cx="1370.4" cy="356.9" r="6.85"/><circle cx="1381.4" cy="344.0" r="6.85"/><circle cx="1385.0" cy="358.7" r="6.85"/><circle cx="1396.0" cy="336.7" r="6.85"/><circle cx="1399.7" cy="358.7" r="6.85"/><circle cx="1409.7" cy="325.8" r="6.85"/><circle cx="1410.6" cy="345.9" r="6.85"/><circle cx="1423.5" cy="333.1" r="6.85"/><circle cx="1425.3" cy="349.6" r="6.85"/><circle cx="1369.0" cy="342.3" r="6.85"/><circle cx="1367.8" cy="358.0" r="6.85"/><circle cx="1383.5" cy="341.0" r="6.85"/><circle cx="1383.5" cy="358.0" r="6.85"/><circle cx="1397.9" cy="337.1" r="6.85"/><circle cx="1397.9" cy="359.3" r="6.85"/><circle cx="1412.3" cy="351.4" r="6.85"/><circle cx="1429.3" cy="347.5" r="6.85"/><circle cx="1435.2" cy="363.2" r="6.85"/><circle cx="1445.6" cy="332.5" r="6.85"/><circle cx="1451.5" cy="347.5" r="6.85"/><circle cx="1460.7" cy="344.2" r="6.85"/><circle cx="1476.1" cy="324.6" r="6.85"/><circle cx="1480.9" cy="345.6" r="6.85"/><circle cx="1480.9" cy="375.6" r="6.85"/><circle cx="1507.1" cy="338.6" r="6.85"/><circle cx="1526.6" cy="344.6" r="6.85"/><circle cx="1553.1" cy="346.6" r="6.85"/><circle cx="1568.7" cy="337.8" r="6.85"/><circle cx="1613.2" cy="339.0" r="6.85"/><circle cx="1618.6" cy="262.8" r="6.85"/><circle cx="1425.1" cy="155.1" r="6.85"/><circle cx="1423.8" cy="576.3" r="6.85"/><circle cx="1313.6" cy="298.3" r="6.85"/><circle cx="1318.8" cy="380.4" r="6.85"/><circle cx="1328.2" cy="379.4" r="6.85"/><circle cx="1334.5" cy="366.9" r="6.85"/><circle cx="1349.5" cy="368.8" r="6.85"/><circle cx="1351.7" cy="383.5" r="6.85"/><circle cx="1332.0" cy="397.6" r="6.85"/><circle cx="1386.2" cy="400.1" r="6.85"/><circle cx="1397.2" cy="400.1" r="6.85"/><circle cx="1259.6" cy="362.4" r="6.85"/><circle cx="1290.7" cy="361.5" r="6.85"/><circle cx="1434.8" cy="364.7" r="6.85"/><circle cx="1249.3" cy="347" r="6.85"/><circle cx="1259.7" cy="339.2" r="6.85"/><circle cx="1271.5" cy="344.4" r="6.85"/><circle cx="1291" cy="343.1" r="6.85"/><circle cx="1304" cy="339.2" r="6.85"/><circle cx="1314.6" cy="357.5" r="6.85"/><circle cx="1323.7" cy="343.1" r="6.85"/><circle cx="1240" cy="350" r="6.85"/><circle cx="1268" cy="352" r="6.85"/><circle cx="1282" cy="350" r="6.85"/><circle cx="1298" cy="352" r="6.85"/><circle cx="1308" cy="348" r="6.85"/><circle cx="1320" cy="350" r="6.85"/><circle cx="1336" cy="352" r="6.85"/><circle cx="1346" cy="356" r="6.85"/><circle cx="1358" cy="350" r="6.85"/><circle cx="1375" cy="350" r="6.85"/><circle cx="1390" cy="348" r="6.85"/><circle cx="1404" cy="350" r="6.85"/><circle cx="1418" cy="340" r="6.85"/><circle cx="1440" cy="340" r="6.85"/></g>
</svg>
</body></html>
